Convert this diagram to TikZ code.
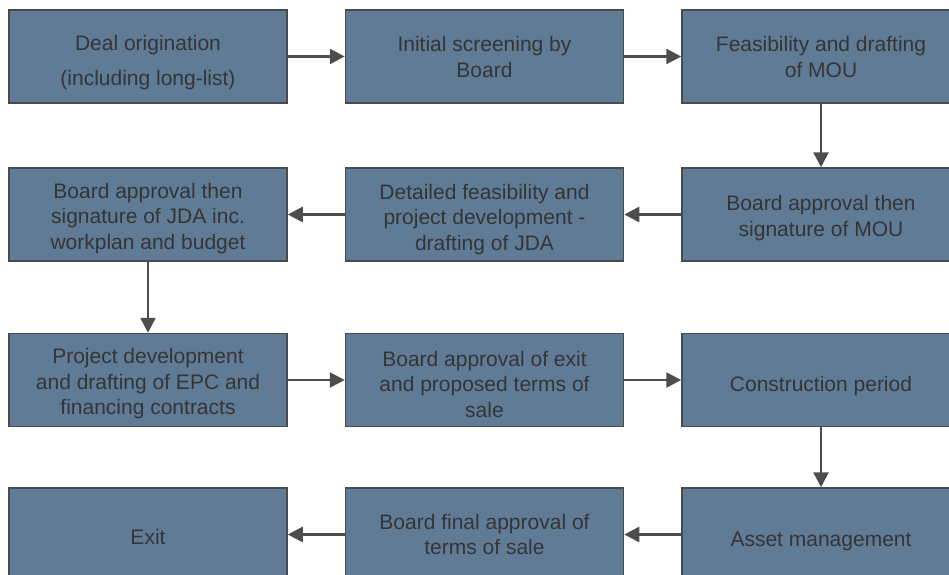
\documentclass[tikz,border=0pt]{standalone}
\usepackage{fontspec}
\setmainfont{Liberation Sans}
\usetikzlibrary{arrows.meta}
\definecolor{boxfill}{HTML}{5F7B96}
\definecolor{boxline}{HTML}{4A4A4A}
\definecolor{txt}{HTML}{353535}
\definecolor{arr}{HTML}{4D4D4D}
\tikzset{
  stepbox/.style={draw=boxline, line width=1.5pt, fill=boxfill,
    minimum width=278pt, minimum height=93pt, inner sep=0pt},
  lbl/.style={text=txt, align=center, inner sep=0pt,
    font=\fontsize{21}{25.5}\selectfont},
  conn/.style={draw=arr, line width=2.6pt, -{Triangle[length=15pt,width=15pt]}}
}
\begin{document}
\begin{tikzpicture}[x=1pt,y=-1pt]
\useasboundingbox (0,0) rectangle (949,574);
\fill[white] (0,0) rectangle (949,574);
\node[stepbox] (a1) at (148,56.5) {};
\node[stepbox] (a2) at (484.5,56.5) {};
\node[stepbox] (a3) at (821,56.5) {};
\node[stepbox] (b3) at (821,214.5) {};
\node[stepbox] (b2) at (484.5,214.5) {};
\node[stepbox] (b1) at (148,214.5) {};
\node[stepbox] (c1) at (148,380) {};
\node[stepbox] (c2) at (484.5,380) {};
\node[stepbox] (c3) at (821,380) {};
\node[stepbox] (d3) at (821,534.5) {};
\node[stepbox] (d2) at (484.5,534.5) {};
\node[stepbox] (d1) at (148,534.5) {};
\node[lbl] (t-a1) at ([yshift=-6.5pt]a1.center) {Deal origination\\[9.5pt](including long-list)};
\node[lbl] (t-a2) at ([yshift=-0.5pt]a2.center) {Initial screening by\\Board};
\node[lbl] (t-a3) at ([yshift=-0.5pt]a3.center) {Feasibility and drafting\\of MOU};
\node[lbl] (t-b3) at ([yshift=-3.5pt]b3.center) {Board approval then\\signature of MOU};
\node[lbl] (t-b2) at ([yshift=-5pt]b2.center) {Detailed feasibility and\\project development -\\drafting of JDA};
\node[lbl] (t-b1) at ([yshift=-4pt]b1.center) {Board approval then\\signature of JDA inc.\\workplan and budget};
\node[lbl] (t-c1) at ([yshift=-4pt]c1.center) {Project development\\and drafting of EPC and\\financing contracts};
\node[lbl] (t-c2) at ([yshift=-4pt]c2.center) {Board approval of exit\\and proposed terms of\\sale};
\node[lbl] (t-c3) at ([yshift=-6.5pt]c3.center) {Construction period};
\node[lbl] (t-d3) at ([yshift=-6.5pt]d3.center) {Asset management};
\node[lbl] (t-d2) at ([yshift=0pt]d2.center) {Board final approval of\\terms of sale};
\node[lbl] (t-d1) at ([yshift=-2.5pt]d1.center) {Exit};
\draw[conn] (a1) -- (a2);
\draw[conn] (a2) -- (a3);
\draw[conn] (a3) -- (b3);
\draw[conn] (b3) -- (b2);
\draw[conn] (b2) -- (b1);
\draw[conn] (b1) -- (c1);
\draw[conn] (c1) -- (c2);
\draw[conn] (c2) -- (c3);
\draw[conn] (c3) -- (d3);
\draw[conn] (d3) -- (d2);
\draw[conn] (d2) -- (d1);
\end{tikzpicture}
\end{document}
